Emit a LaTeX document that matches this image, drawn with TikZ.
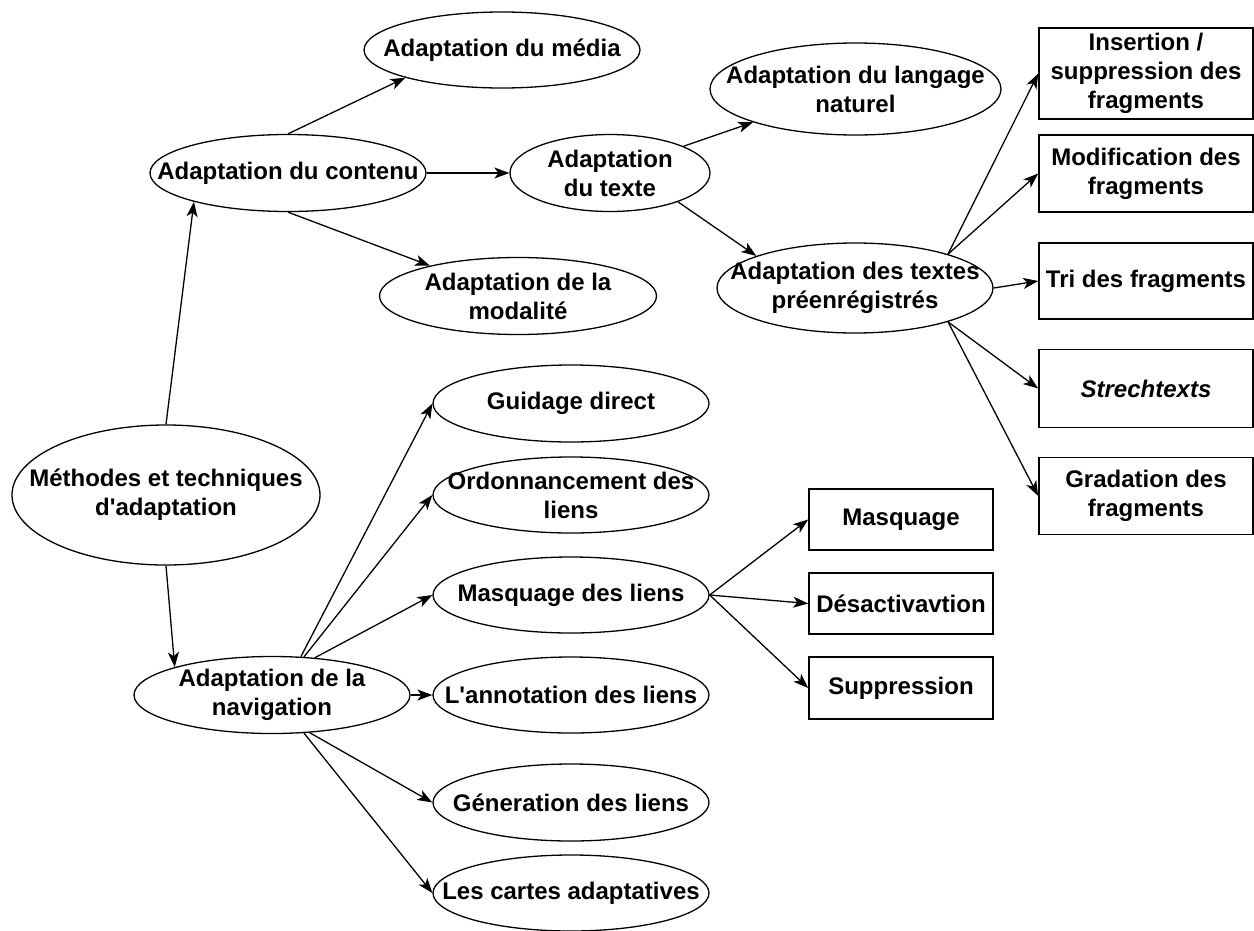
\documentclass[tikz,border=0pt]{standalone}
\usepackage{fontspec}
\setmainfont{Liberation Sans}[Ligatures=TeXOff]
\usetikzlibrary{shapes.geometric,arrows.meta}
\begin{document}
\begin{tikzpicture}[x=1pt,y=-1pt,
  oval/.style={ellipse, draw, line width=1.3pt, inner sep=0pt, fill=white},
  box/.style={rectangle, draw, line width=1.6pt, inner sep=0pt, minimum width=214pt,
    font=\fontsize{24}{29}\selectfont\bfseries, align=center},
  smallbox/.style={box, minimum width=184pt, minimum height=61pt},
  lbl/.style={font=\fontsize{24}{29}\selectfont\bfseries, align=center},
  conn/.style={line width=1.3pt, -{Stealth[length=15pt,width=11pt,inset=4pt]}}
]
\useasboundingbox (0,0) rectangle (1254,930);

% root and first level
\node[oval, minimum width=308pt, minimum height=140pt,
  label={[lbl]center:{Méthodes et techniques\\d'adaptation}}] (meth) at (166,495) {};
\node[oval, minimum width=276pt, minimum height=77pt,
  label={[lbl]center:{Adaptation du contenu}}] (cont) at (288,173) {};
\node[oval, minimum width=276pt, minimum height=77pt,
  label={[lbl]center:{Adaptation de la\\navigation}}] (nav) at (272,695) {};

% content adaptation
\node[oval, minimum width=276pt, minimum height=76pt,
  label={[lbl]center:{Adaptation du média}}] (media) at (502,50) {};
\node[oval, minimum width=277pt, minimum height=77pt,
  label={[lbl]center:{Adaptation de la\\modalité}}] (moda) at (518,296) {};
\node[oval, minimum width=200pt, minimum height=77pt,
  label={[lbl]center:{Adaptation\\du texte}}] (texte) at (610,173) {};
\node[oval, minimum width=291pt, minimum height=92pt,
  label={[lbl]center:{Adaptation du langage\\naturel}}] (lang) at (855.5,89) {};
\node[oval, minimum width=276pt, minimum height=90pt,
  label={[lbl]center:{Adaptation des textes\\préenrégistrés}}] (preen) at (855,288) {};

% fragment techniques
\node[box, minimum height=91pt] (ins) at (1146,73.5) {Insertion /\\suppression des\\fragments};
\node[box, minimum height=77pt] (modif) at (1146,173.5) {Modification des\\fragments};
\node[box, minimum height=76pt] (tri) at (1146,281) {Tri des fragments};
\node[box, minimum height=78pt] (strech) at (1146,388.5) {\textit{Strechtexts}};
\node[box, minimum height=77pt] (grad) at (1146,496) {Gradation des\\fragments};

% navigation adaptation
\node[oval, minimum width=276pt, minimum height=77pt,
  label={[lbl]center:{Guidage direct}}] (guid) at (571,403.5) {};
\node[oval, minimum width=276pt, minimum height=76pt,
  label={[lbl]center:{Ordonnancement des\\liens}}] (ordo) at (571,495) {};
\node[oval, minimum width=276pt, minimum height=76pt,
  label={[lbl]center:{Masquage des liens}}] (masql) at (571,595) {};
\node[oval, minimum width=276pt, minimum height=76pt,
  label={[lbl]center:{L'annotation des liens}}] (annot) at (571,695) {};
\node[oval, minimum width=276pt, minimum height=77pt,
  label={[lbl]center:{Géneration des liens}}] (gen) at (571,802.5) {};
\node[oval, minimum width=276pt, minimum height=76pt,
  label={[lbl]center:{Les cartes adaptatives}}] (cartes) at (571,893) {};

% link hiding variants
\node[smallbox] (masq) at (901,519.5) {Masquage};
\node[smallbox] (des) at (901,603.5) {Désactivavtion};
\node[smallbox, minimum height=62pt] (sup) at (901,688) {Suppression};

% connectors
\draw[conn] (meth.north) -- (cont.197);
\draw[conn] (meth.south) -- (nav.164);
\draw[conn] (cont.north) -- (media.196);
\draw[conn] (cont.east) -- (texte.west);
\draw[conn] (cont.south) -- (moda.161);
\draw[conn] (texte.20) -- (lang.198);
\draw[conn] (texte.-23) -- (preen.162);
\draw[conn] (preen.20) -- (ins.west);
\draw[conn] (preen.20) -- (modif.west);
\draw[conn] (preen.east) -- (tri.west);
\draw[conn] (preen.-20) -- (strech.west);
\draw[conn] (preen.-20) -- (grad.west);
\draw[conn] (nav.53) -- (guid.west);
\draw[conn] (nav.50) -- (ordo.west);
\draw[conn] (nav.41) -- (masql.west);
\draw[conn] (nav.east) -- (annot.west);
\draw[conn] (nav.-45) -- (gen.west);
\draw[conn] (nav.-50) -- (cartes.west);
\draw[conn] (masql.east) -- (masq.west);
\draw[conn] (masql.east) -- (des.west);
\draw[conn] (masql.east) -- (sup.west);
\end{tikzpicture}
\end{document}
